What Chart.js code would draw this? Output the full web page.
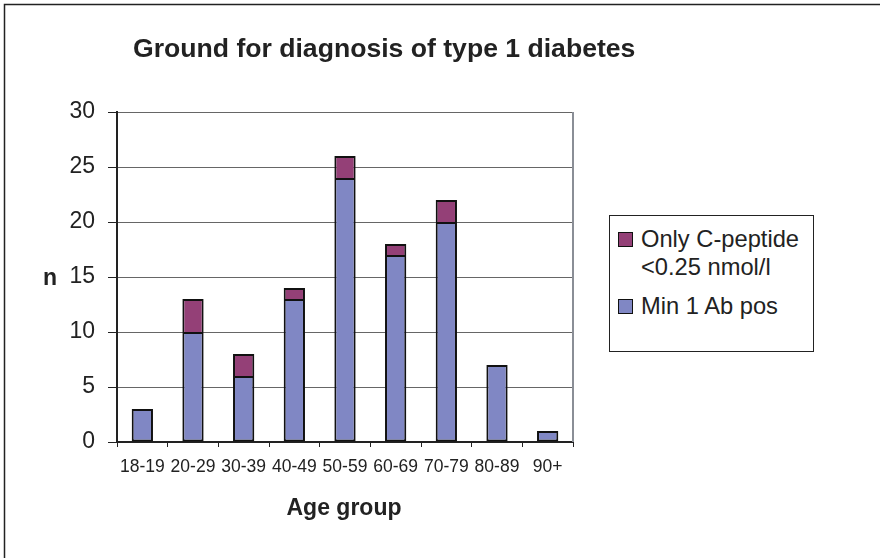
<!DOCTYPE html>
<html>
<head>
<meta charset="utf-8">
<script src="https://cdn.jsdelivr.net/npm/chart.js@4.4.1/dist/chart.umd.min.js"></script>
<style>
    body { margin: 0; background: #fff; }
    #wrap { position: relative; width: 880px; height: 558px; }
    #legend {
        position: absolute; left: 609px; top: 215px; width: 205px; height: 137px;
        box-sizing: border-box; border: 1.5px solid #222; background: #fff;
        font-family: "Liberation Sans", Arial, sans-serif; font-size: 23.7px; color: #222;
        line-height: 28px; padding-top: 9px;
    }
    .item { position: relative; padding-left: 31px; margin-bottom: 11px; }
    .swatch {
        position: absolute; left: 8px; top: 7px; width: 15px; height: 15px;
        box-sizing: border-box; border: 1.5px solid #111;
    }
</style>
</head>
<body>
<div id="wrap">
    <canvas id="barChart" width="880" height="558"></canvas>
    <div id="legend"></div>
</div>
<script>
const ageGroups = ['18-19', '20-29', '30-39', '40-49', '50-59', '60-69', '70-79', '80-89', '90+'];
const abPos = [3, 10, 6, 13, 24, 17, 20, 7, 1];
const cPeptide = [0, 3, 2, 1, 2, 1, 2, 0, 0];
const yTicks = [0, 5, 10, 15, 20, 25, 30];

const FONT = '"Liberation Sans", Arial, sans-serif';
const INK = '#222';

// frame, titles and the plot border are drawn by hand
const decorations = {
    id: 'decorations',
    beforeDraw(chart) {
        const ctx = chart.ctx;
        ctx.save();
        ctx.fillStyle = '#fff';
        ctx.fillRect(0, 0, chart.width, chart.height);
        ctx.strokeStyle = INK;
        ctx.lineWidth = 1.5;
        ctx.beginPath();
        ctx.moveTo(4.5, chart.height);
        ctx.lineTo(4.5, 4.5);
        ctx.lineTo(chart.width, 4.5);
        ctx.stroke();
        ctx.restore();
    },
    afterDraw(chart) {
        const ctx = chart.ctx;
        const area = chart.chartArea;
        ctx.save();
        ctx.strokeStyle = '#8a8e96';
        ctx.lineWidth = 2;
        ctx.beginPath();
        ctx.moveTo(area.right, area.top);
        ctx.lineTo(area.right, area.bottom);
        ctx.stroke();

        ctx.fillStyle = INK;
        ctx.textBaseline = 'alphabetic';
        ctx.textAlign = 'left';
        ctx.font = 'bold 26.6px ' + FONT;
        ctx.fillText('Ground for diagnosis of type 1 diabetes', 133, 57);

        ctx.font = 'bold 23px ' + FONT;
        ctx.textAlign = 'center';
        ctx.fillText('Age group', 344, 515);
        ctx.fillText('n', 50, 285);
        ctx.restore();
    }
};

const barConfig = {
    type: 'bar',
    data: {
        labels: ageGroups,
        datasets: [
            {
                label: 'Min 1 Ab pos',
                data: abPos,
                backgroundColor: '#8087c4',
                borderColor: '#111',
                borderWidth: 2,
                borderSkipped: false
            },
            {
                label: 'Only C-peptide\n<0.25 nmol/l',
                data: cPeptide,
                backgroundColor: '#944077',
                borderColor: '#111',
                borderWidth: 2,
                borderSkipped: 'start' // the blue bar below already draws the seam
            }
        ]
    },
    options: {
        responsive: false,
        animation: false,
        layout: { padding: { top: 112, right: 307, left: 0, bottom: 0 } },
        datasets: { bar: { categoryPercentage: 1, barPercentage: 0.42 } },
        scales: {
            x: {
                stacked: true,
                afterFit: s => { s.height = 116; },
                grid: { drawOnChartArea: false, tickLength: 5, tickColor: INK, offset: true },
                border: { color: INK, width: 2 },
                ticks: { color: INK, font: { family: FONT, size: 17.5 }, padding: 10, maxRotation: 0, autoSkip: false }
            },
            y: {
                stacked: true,
                min: 0,
                max: 30,
                afterFit: s => { s.width = 117; },
                afterBuildTicks: s => { s.ticks = yTicks.map(v => ({ value: v })); },
                grid: { color: '#666', lineWidth: 1, tickLength: 9, tickColor: INK },
                border: { color: INK, width: 2 },
                ticks: { color: INK, font: { family: FONT, size: 23 }, padding: 13 }
            }
        },
        plugins: {
            legend: { display: false },
            title: { display: false },
            tooltip: { enabled: false }
        }
    },
    plugins: [decorations]
};

const ctxBar = document.getElementById('barChart').getContext('2d');
const barChart = new Chart(ctxBar, barConfig);

// legend in Excel order: top series first
const legendBox = document.getElementById('legend');
barChart.data.datasets.slice().reverse().forEach(ds => {
    const item = document.createElement('div');
    item.className = 'item';
    const sw = document.createElement('span');
    sw.className = 'swatch';
    sw.style.background = ds.backgroundColor;
    item.appendChild(sw);
    ds.label.split('\n').forEach((line, i) => {
        if (i) item.appendChild(document.createElement('br'));
        item.appendChild(document.createTextNode(line));
    });
    legendBox.appendChild(item);
});
</script>
</body>
</html>
